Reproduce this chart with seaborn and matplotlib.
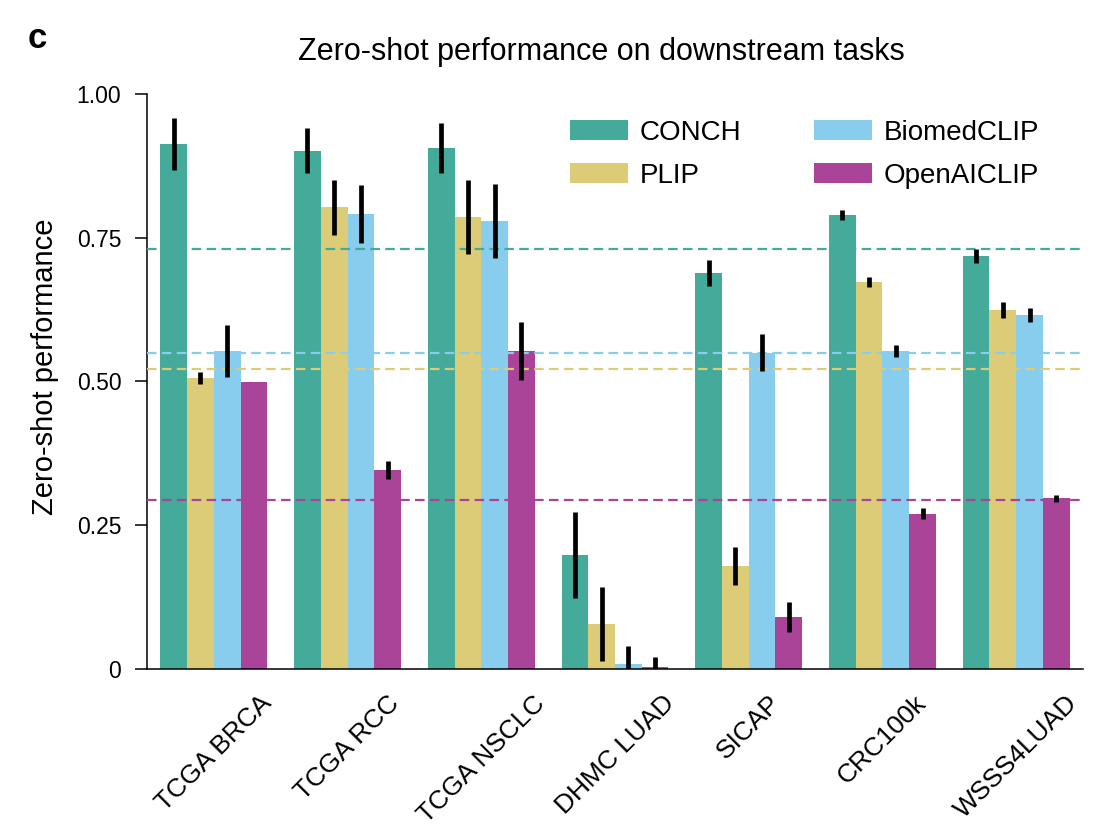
import matplotlib
matplotlib.use("Agg")
import matplotlib.pyplot as plt
import seaborn as sns
import pandas as pd
import numpy as np

tasks = ["TCGA BRCA", "TCGA RCC", "TCGA NSCLC", "DHMC LUAD", "SICAP", "CRC100k", "WSSS4LUAD"]
models = ["CONCH", "PLIP", "BiomedCLIP", "OpenAICLIP"]
colors = ["#44AA99", "#DDCC77", "#88CCEE", "#AA4499"]

conch = [0.913, 0.901, 0.906, 0.198, 0.689, 0.790, 0.718]
plip = [0.506, 0.803, 0.786, 0.078, 0.179, 0.673, 0.624]
biomedclip = [0.553, 0.791, 0.779, 0.009, 0.550, 0.553, 0.616]
openaiclip = [0.499, 0.346, 0.553, 0.003, 0.090, 0.270, 0.297]

conch_err = [0.046, 0.039, 0.044, 0.075, 0.023, 0.009, 0.012]
plip_err = [0.011, 0.048, 0.064, 0.064, 0.033, 0.009, 0.014]
biomedclip_err = [0.045, 0.051, 0.065, 0.031, 0.032, 0.010, 0.012]
openaiclip_err = [0.000, 0.015, 0.050, 0.018, 0.026, 0.010, 0.006]

values = [conch, plip, biomedclip, openaiclip]
errors = [conch_err, plip_err, biomedclip_err, openaiclip_err]

rows = []
for m, vals, errs in zip(models, values, errors):
    for t, v, e in zip(tasks, vals, errs):
        rows.append({"task": t, "model": m, "score": v, "err": e})
df = pd.DataFrame(rows)

sns.set_theme(style="ticks")
plt.rcParams["font.family"] = ["Liberation Sans", "DejaVu Sans"]
for k in ["text.color", "axes.labelcolor", "xtick.color", "ytick.color", "axes.edgecolor"]:
    plt.rcParams[k] = "black"

fig = plt.figure(figsize=(11.06, 8.26), dpi=100)
ax = fig.add_axes([0.1329, 0.1901, 0.8463, 0.6961])

sns.barplot(data=df, x="task", y="score", hue="model", order=tasks, hue_order=models,
            palette=colors, errorbar=None, width=0.8, linewidth=0, saturation=1, ax=ax)

# dashed mean lines
for m, vals, c in zip(models, values, colors):
    ax.axhline(np.mean(vals), color=c, lw=1.6, ls=(0, (4.3, 2.4)), zorder=3)

# error bars at bar centers
for cont, vals, errs in zip(ax.containers, values, errors):
    xs = [p.get_x() + p.get_width() / 2 for p in cont.patches]
    ax.errorbar(xs, vals, yerr=errs, fmt="none", ecolor="black", elinewidth=3.4,
                capsize=0, zorder=4)

ax.set_xlim(-0.5, 6.5)
ax.set_ylim(0, 1.0)
ax.set_yticks([0, 0.25, 0.5, 0.75, 1.0])
ax.set_yticklabels(["0", "0.25", "0.50", "0.75", "1.00"], fontsize=16.5)
ax.set_xticks(range(len(tasks)))
ax.set_xticklabels(tasks, rotation=45, ha="center", fontsize=19)
ax.tick_params(axis="x", length=0, pad=16)
ax.tick_params(axis="y", length=8.5, width=1.1, pad=10)
ax.set_xlabel("")
ax.set_ylabel("Zero-shot performance", fontsize=21)
ax.yaxis.set_label_coords(-0.094, 0.525)
sns.despine(ax=ax)
for s in ["left", "bottom"]:
    ax.spines[s].set_linewidth(1.1)
    ax.spines[s].set_color("black")

leg = ax.legend(ncol=2, loc="upper left", bbox_to_anchor=(0.452, 0.955), frameon=False,
                fontsize=20, handlelength=2.09, handleheight=0.76, handletextpad=0.42,
                columnspacing=2.6, labelspacing=0.6, borderpad=0, borderaxespad=0)

fig.text(0.5434, 0.937, "Zero-shot performance on downstream tasks", ha="center",
         va="center", fontsize=22)
fig.text(0.025, 0.953, "c", ha="left", va="center", fontsize=25, fontweight="black")

fig.savefig("out.png", dpi=100)
